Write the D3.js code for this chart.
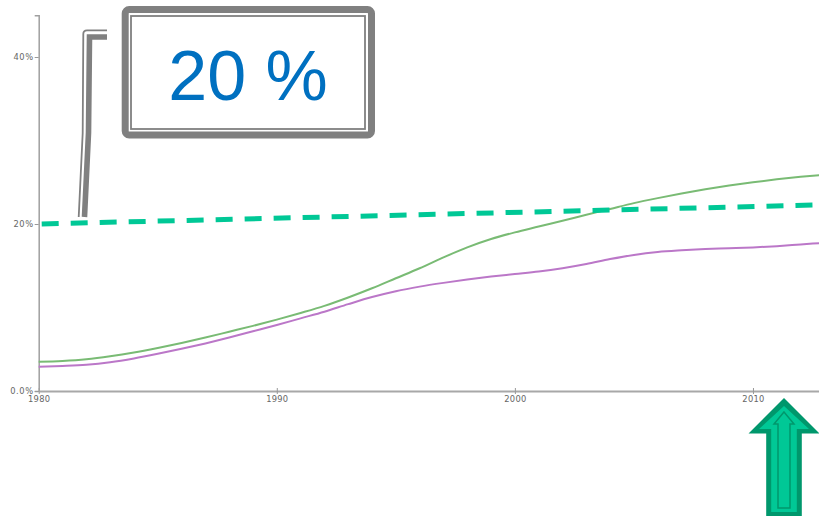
<!DOCTYPE html>
<html>
<head>
<meta charset="utf-8">
<script src="https://cdn.jsdelivr.net/npm/d3@7/dist/d3.min.js"></script>
<style>
  html, body { margin: 0; padding: 0; background: #fff; }
  svg { display: block; }
  .tick text { font-family: "DejaVu Sans", Verdana, sans-serif; fill: #666; }
</style>
</head>
<body>
<svg id="chart" width="819" height="516"></svg>
<script>
// Yearly shares (%) for the two series
const years = d3.range(1980, 2014);
const seriesGreen = [3.5, 3.6, 3.8, 4.15, 4.6, 5.15, 5.75, 6.4, 7.1, 7.8,
                     8.55, 9.35, 10.2, 11.2, 12.3, 13.5, 14.7, 16.0, 17.2, 18.2,
                     19.0, 19.7, 20.4, 21.1, 21.8, 22.5, 23.1, 23.65, 24.15, 24.6,
                     25.0, 25.35, 25.65, 25.9];
const seriesPurple = [2.9, 3.0, 3.15, 3.45, 3.9, 4.45, 5.05, 5.7, 6.4, 7.15,
                      7.9, 8.7, 9.5, 10.4, 11.25, 11.95, 12.5, 12.95, 13.35, 13.7,
                      14.0, 14.3, 14.7, 15.2, 15.8, 16.3, 16.65, 16.85, 17.0, 17.1,
                      17.2, 17.35, 17.55, 17.75];
// Target trend line
const targetYears = [1980, 2013];
const targetValues = [20, 22.3];
// Axis ticks
const xTickValues = [1980, 1990, 2000, 2010];
const yTickValues = [0, 20, 40];
const yTickLabels = ["0.0%", "20%", "40%"];
const calloutText = "20 %";

const svg = d3.select("#chart");

const x = d3.scaleLinear().domain([1980, 2013]).range([38.7, 824.4]);
const y = d3.scaleLinear().domain([0, 45]).range([391, 15.25]);

// Axes
const gx = svg.append("g")
  .attr("transform", `translate(0,${y(0)})`)
  .call(d3.axisBottom(x).tickValues(xTickValues).tickFormat(d3.format("d"))
        .tickSizeInner(3).tickSizeOuter(0).tickPadding(3));
gx.select(".domain").attr("stroke", "#a8a8a8").attr("stroke-width", 2);
gx.selectAll(".tick line").attr("stroke", "#999").attr("y1", -3).attr("y2", 3);
gx.selectAll(".tick text").attr("font-size", 8.3).attr("dy", "0.6em")
  .attr("letter-spacing", 0.3);

const gy = svg.append("g")
  .attr("transform", `translate(${x(1980)},0)`)
  .call(d3.axisLeft(y).tickValues(yTickValues)
        .tickFormat((d, i) => yTickLabels[i])
        .tickSizeInner(4).tickSizeOuter(4).tickPadding(1));
gy.select(".domain").attr("stroke", "#a0a0a0").attr("stroke-width", 1.5);
gy.selectAll(".tick line").attr("stroke", "#999");
gy.selectAll(".tick text").attr("font-size", 8.3).attr("letter-spacing", 0.6);

// Series lines
const line = d3.line()
  .x((d, i) => x(years[i]))
  .y(d => y(d))
  .curve(d3.curveMonotoneX);

svg.append("path").datum(seriesPurple)
  .attr("d", line).attr("fill", "none")
  .attr("stroke", "#bb77c8").attr("stroke-width", 2);

svg.append("path").datum(seriesGreen)
  .attr("d", line).attr("fill", "none")
  .attr("stroke", "#79bb74").attr("stroke-width", 2);

// Dashed target line
const targetLine = d3.line()
  .x((d, i) => x(targetYears[i]))
  .y(d => y(d));
svg.append("path").datum(targetValues)
  .attr("d", targetLine).attr("fill", "none")
  .attr("stroke", "#00c896").attr("stroke-width", 5)
  .attr("stroke-dasharray", "17,12").attr("stroke-dashoffset", -3);

// Callout leader: thick line with a thin parallel line beside it
svg.append("path")
  .attr("d", "M84.5,217 L88.5,133 L89.5,37 L107,37")
  .attr("fill", "none").attr("stroke", "#808080")
  .attr("stroke-width", 5.6).attr("stroke-linejoin", "miter");
svg.append("path")
  .attr("d", "M78.7,217 L82.7,133 L83.3,34 Q83.3,30.3 87,30.3 L107,30.3")
  .attr("fill", "none").attr("stroke", "#808080").attr("stroke-width", 1.8);

// Callout box: thick outer frame plus thin inner frame
svg.append("rect")
  .attr("x", 125.2).attr("y", 9.5).attr("width", 246.3).attr("height", 125.5)
  .attr("rx", 4).attr("fill", "#fff")
  .attr("stroke", "#808080").attr("stroke-width", 7);
svg.append("rect")
  .attr("x", 131).attr("y", 16).attr("width", 234).attr("height", 113)
  .attr("fill", "none").attr("stroke", "#808080").attr("stroke-width", 1.8);
svg.append("text")
  .attr("x", 248).attr("y", 100)
  .attr("text-anchor", "middle")
  .attr("font-family", "'Liberation Sans', Arial, sans-serif")
  .attr("font-size", 70).attr("fill", "#0070c0")
  .text(calloutText);

// Upward arrow below the 2010s
function arrowPath(cx, tipY, baseY, headHalf, shaftHalf, bottom) {
  return `M${cx},${tipY} L${cx + headHalf},${baseY} L${cx + shaftHalf},${baseY} ` +
         `L${cx + shaftHalf},${bottom} L${cx - shaftHalf},${bottom} ` +
         `L${cx - shaftHalf},${baseY} L${cx - headHalf},${baseY} Z`;
}
const ax = 784;
svg.append("path").attr("d", arrowPath(ax, 398, 433.5, 35.5, 17.8, 530))
  .attr("fill", "#00976c");
svg.append("path").attr("d", arrowPath(ax, 406, 429, 25, 12.8, 512))
  .attr("fill", "#00c896");
svg.append("path").attr("d", arrowPath(ax, 412, 424, 10, 6, 508))
  .attr("fill", "none").attr("stroke", "#00976c").attr("stroke-width", 1.5);
</script>
</body>
</html>
